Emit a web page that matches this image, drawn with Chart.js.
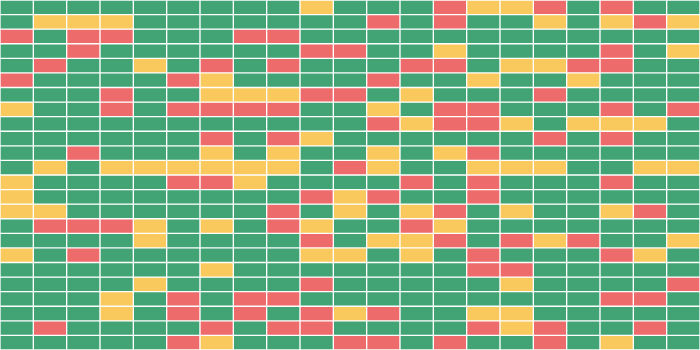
<!DOCTYPE html>
<html>
<head>
<meta charset="utf-8">
<script src="https://cdn.jsdelivr.net/npm/chart.js@4.4.0/dist/chart.umd.min.js"></script>
<style>
  html, body { margin: 0; padding: 0; background: #fff; }
  #wrap { width: 700px; height: 350px; position: relative; }
</style>
</head>
<body>
<div id="wrap"><canvas id="chart"></canvas></div>
<script>
// level per cell: 0 = ok, 1 = warning, 2 = critical
const columns = ['1','2','3','4','5','6','7','8','9','10','11','12','13','14','15','16','17','18','19','20','21'];
const rowLabels = ['R1','R2','R3','R4','R5','R6','R7','R8','R9','R10','R11','R12','R13','R14','R15','R16','R17','R18','R19','R20','R21','R22','R23','R24'];
const levels = [
    [0,0,0,0,0,0,0, 0,0,1,0,0,0,2, 1,1,2,0,2,0,0],
    [0,1,1,1,0,0,0, 0,0,0,0,2,0,2, 0,0,1,0,1,2,1],
    [2,0,2,2,0,0,0, 2,2,0,0,0,0,0, 0,0,0,0,0,0,0],
    [0,0,2,0,0,0,0, 0,0,2,2,0,0,1, 0,0,0,0,2,0,1],
    [0,2,0,0,1,0,2, 0,2,0,0,0,2,2, 0,1,1,2,2,0,0],
    [2,0,0,0,0,2,1, 0,0,0,0,2,0,0, 1,0,0,1,0,0,0],
    [0,0,0,2,0,0,1, 1,1,2,2,0,1,0, 0,0,2,0,0,0,0],
    [1,0,0,2,0,2,2, 2,2,0,0,1,0,2, 2,0,0,0,2,0,2],
    [0,0,0,0,0,0,0, 0,0,0,0,2,1,2, 2,1,0,1,1,1,0],
    [0,0,0,0,0,0,2, 0,2,1,0,0,0,0, 0,0,2,0,2,0,0],
    [0,0,2,0,0,0,1, 0,1,0,0,1,0,1, 2,0,0,0,0,0,0],
    [0,1,0,1,1,1,1, 1,1,0,2,1,0,0, 1,1,1,0,0,1,1],
    [1,0,0,0,0,2,2, 1,0,0,0,0,2,0, 2,0,0,0,2,0,0],
    [1,0,0,0,0,0,0, 0,0,2,1,2,0,0, 2,0,0,0,0,0,0],
    [1,1,0,0,0,0,0, 0,2,0,1,0,1,2, 0,1,0,0,1,2,0],
    [0,2,2,2,1,0,1, 0,2,1,0,0,2,1, 0,0,0,0,0,0,0],
    [0,0,0,0,1,0,0, 0,0,2,0,1,1,2, 0,2,1,2,0,0,1],
    [1,0,2,0,0,0,0, 0,0,1,1,0,1,0, 2,0,0,0,2,1,0],
    [0,0,0,0,0,0,1, 0,0,0,0,0,0,0, 2,2,0,0,0,0,0],
    [0,0,0,0,1,0,0, 0,0,2,0,0,0,0, 0,1,0,0,0,0,2],
    [0,0,0,1,0,2,0, 2,2,0,0,0,0,0, 0,0,0,0,2,2,0],
    [0,0,0,1,0,2,0, 2,0,2,1,2,0,0, 1,1,0,0,0,0,0],
    [0,2,0,0,0,0,2, 0,2,2,0,0,0,0, 2,1,2,0,0,2,0],
    [0,0,0,0,0,2,1, 0,0,0,2,2,0,2, 0,0,2,0,1,0,0]
];
const levelColors = ['#42a475', '#f9c95d', '#ee6b6c'];

// every cell is a stacked bar of height 1, coloured by its level
const datasets = levels.map((row, i) => ({
    label: rowLabels[i],
    data: row.map(() => 1),
    backgroundColor: row.map(v => levelColors[v]),
    borderColor: '#ffffff',
    borderWidth: 1,
    borderSkipped: false,
    barPercentage: 1,
    categoryPercentage: 1
}));

new Chart(document.getElementById('chart'), {
    type: 'bar',
    data: { labels: columns, datasets },
    options: {
        responsive: true,
        maintainAspectRatio: false,
        animation: false,
        layout: { padding: 0 },
        plugins: { legend: { display: false }, tooltip: { enabled: false } },
        scales: {
            x: { stacked: true, display: false, grid: { display: false } },
            y: { stacked: true, display: false, reverse: true, min: 0, max: rowLabels.length, grid: { display: false } }
        }
    }
});
</script>
</body>
</html>
